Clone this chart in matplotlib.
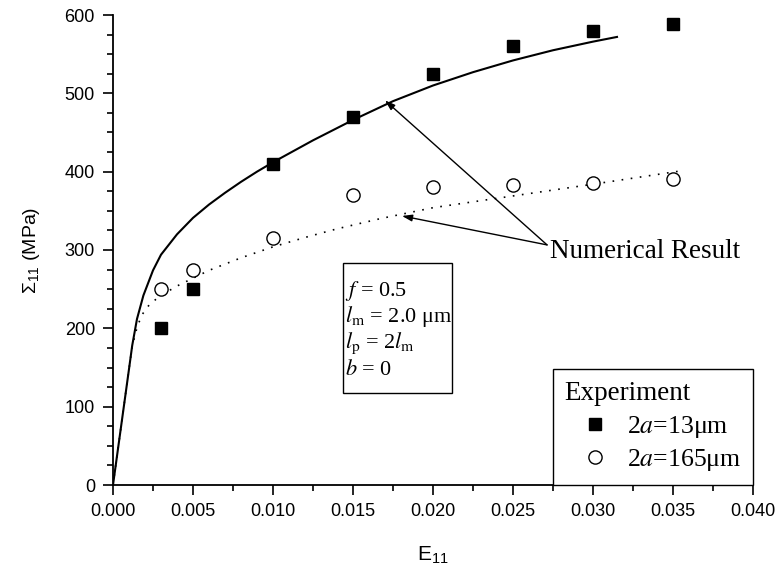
import matplotlib
matplotlib.use("Agg")
import matplotlib.pyplot as plt
from matplotlib.patches import Rectangle
from matplotlib.ticker import MultipleLocator, FormatStrFormatter

plt.rcParams['font.family'] = ['Liberation Sans', 'DejaVu Sans']
plt.rcParams['mathtext.fontset'] = 'custom'
plt.rcParams['mathtext.rm'] = 'Liberation Sans'
plt.rcParams['mathtext.it'] = 'Liberation Sans:italic'

# Experimental data
exp_strain = [0.003, 0.005, 0.010, 0.015, 0.020, 0.025, 0.030, 0.035]
exp_13um = [200, 250, 410, 470, 525, 560, 580, 588]
exp_165um = [250, 275, 315, 370, 380, 383, 385, 390]

# Numerical results
num13_strain = [0, 0.0005, 0.001, 0.0012, 0.0015, 0.0019, 0.0025, 0.003, 0.004,
                0.005, 0.006, 0.007, 0.008, 0.009, 0.010, 0.0125, 0.015, 0.0175,
                0.020, 0.0225, 0.025, 0.0275, 0.030, 0.0315]
num13_stress = [0, 74, 148, 178, 212, 242, 274, 294, 320, 341, 358, 373, 387,
                400, 412, 440, 466, 490, 510, 527, 542, 555, 566, 572]
num165_strain = [0, 0.0005, 0.001, 0.0012, 0.0015, 0.0018, 0.0023, 0.003, 0.004,
                 0.005, 0.006, 0.007, 0.008, 0.010, 0.012, 0.014, 0.0167, 0.020,
                 0.025, 0.030, 0.0355]
num165_stress = [0, 74, 148, 177, 201, 217, 231, 242, 254, 264, 274, 282, 290,
                 304, 316, 327, 340, 354, 369, 384, 401]

fig = plt.figure(figsize=(7.77, 5.73), dpi=100)
ax = fig.add_axes([113/777, 1-485/573, 640/777, 470/573])

ax.plot(num13_strain, num13_stress, color='k', lw=1.5, zorder=2)
ax.plot(num165_strain, num165_stress, color='k', lw=1.2,
        linestyle=(0, (1, 4.5)), zorder=2)

ax.plot(exp_strain, exp_13um, linestyle='none', marker='s', ms=8,
        mfc='k', mec='k', label=r'2$a$=13μm', zorder=3)
ax.plot(exp_strain, exp_165um, linestyle='none', marker='o', ms=9.5,
        mfc='white', mec='k', mew=1.0, label=r'2$a$=165μm', zorder=3)

ax.set_xlim(0, 0.040)
ax.set_ylim(0, 600)
ax.xaxis.set_major_locator(MultipleLocator(0.005))
ax.xaxis.set_minor_locator(MultipleLocator(0.0025))
ax.yaxis.set_major_locator(MultipleLocator(100))
ax.yaxis.set_minor_locator(MultipleLocator(25))
ax.xaxis.set_major_formatter(FormatStrFormatter('%.3f'))

for s in ['top', 'right']:
    ax.spines[s].set_visible(False)
for s in ['left', 'bottom']:
    ax.spines[s].set_linewidth(1.3)
ax.tick_params(which='major', direction='out', length=7, width=1.2,
               labelsize=13, pad=6)
ax.tick_params(which='minor', direction='out', length=4, width=1.2)

ax.set_xlabel(r'E$_{11}$', fontsize=15, labelpad=18)
ax.set_ylabel(r'$\Sigma_{11}$ (MPa)', fontsize=14, labelpad=16)

# Annotation arrows
ax.text(0.0273, 290, 'Numerical Result', fontsize=19.5,
        family='Liberation Serif', va='baseline', ha='left')
arrow = dict(arrowstyle='-|>,head_length=0.6,head_width=0.2', lw=1.0,
             color='k', shrinkA=0, shrinkB=0, mutation_scale=10)
ax.annotate('', xy=(0.0170, 491), xytext=(0.02713, 306.5), arrowprops=arrow)
ax.annotate('', xy=(0.01806, 343.5), xytext=(0.02713, 306.5), arrowprops=arrow)

# Parameter box
ax.add_patch(Rectangle((0.014375, 118), 0.02119 - 0.014375, 283.5 - 118,
                       fill=False, lw=1.0, ec='k', zorder=4))
params = [r'$f$ = 0.5', r'$l_{\rm m}$ = 2.0 μm', r'$l_{\rm p}$ = 2$l_{\rm m}$', r'$b$ = 0']
ys = [241, 208, 175, 141]
for txt, yv in zip(params, ys):
    ax.text(0.0145, yv, txt, fontsize=16, family='Liberation Serif',
            math_fontfamily='stix', va='baseline', ha='left')

leg = ax.legend(loc='lower right', bbox_to_anchor=(1.0, 0.0), frameon=True,
                fancybox=False, edgecolor='k', framealpha=1,
                prop={'family': 'Liberation Serif', 'size': 18.5},
                title='Experiment', title_fontproperties={'family': 'Liberation Serif', 'size': 19.5},
                alignment='left', borderpad=0.45, handlelength=2.4,
                handletextpad=0.05, labelspacing=0.3, borderaxespad=0)
leg.get_frame().set_linewidth(1.0)
for t in leg.get_texts():
    t.set_math_fontfamily('stix')

fig.savefig('out.png', dpi=100)
